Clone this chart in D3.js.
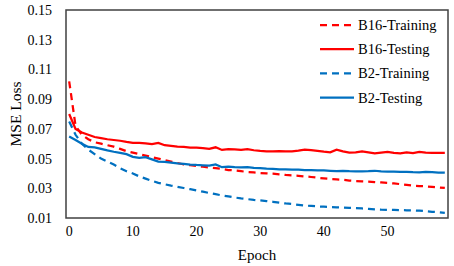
<!DOCTYPE html>
<html>
<head>
<meta charset="utf-8">
<script src="https://d3js.org/d3.v7.min.js"></script>
<style>
  body { margin: 0; background: #fff; }
  svg text { font-family: "Liberation Serif", "Times New Roman", serif; fill: #000; }
</style>
</head>
<body>
<script>
// epochs 0..59
var epochs = d3.range(0, 60);
var xTicks = [0, 10, 20, 30, 40, 50];
var yTicks = [0.01, 0.03, 0.05, 0.07, 0.09, 0.11, 0.13, 0.15];

var b16Training = [0.102, 0.072, 0.066, 0.063, 0.061, 0.060, 0.059, 0.058, 0.0565, 0.055,
  0.054, 0.053, 0.052, 0.051, 0.050, 0.049, 0.048, 0.047, 0.046, 0.0455,
  0.045, 0.0445, 0.044, 0.0435, 0.043, 0.0423, 0.042, 0.0415, 0.041, 0.0407,
  0.0403, 0.040, 0.0398, 0.0394, 0.039, 0.0387, 0.0384, 0.038, 0.0376, 0.0371,
  0.0367, 0.0363, 0.036, 0.0357, 0.0352, 0.0349, 0.0347, 0.0345, 0.0342, 0.0339,
  0.0336, 0.0333, 0.0328, 0.0323, 0.0318, 0.0315, 0.0313, 0.031, 0.0306, 0.0302];

var b16Testing = [0.080, 0.070, 0.0675, 0.066, 0.0645, 0.0638, 0.063, 0.0625, 0.062, 0.0612,
  0.0605, 0.0605, 0.0603, 0.0598, 0.0606, 0.059, 0.0585, 0.058, 0.0578, 0.0574,
  0.0573, 0.057, 0.0566, 0.0576, 0.0558, 0.0563, 0.0562, 0.0558, 0.0563, 0.0556,
  0.0552, 0.0549, 0.0549, 0.055, 0.0549, 0.0549, 0.0553, 0.056, 0.0557, 0.0552,
  0.0546, 0.0542, 0.056, 0.0548, 0.054, 0.0541, 0.0548, 0.0542, 0.0535, 0.054,
  0.0545, 0.0538, 0.0535, 0.0542, 0.0537, 0.0545, 0.054, 0.0538, 0.0538, 0.0538];

var b2Training = [0.075, 0.066, 0.060, 0.056, 0.053, 0.050, 0.048, 0.046, 0.0435, 0.0415,
  0.040, 0.038, 0.0365, 0.035, 0.0337, 0.0327, 0.0318, 0.031, 0.0302, 0.0294,
  0.0286, 0.0277, 0.0268, 0.026, 0.0252, 0.0245, 0.0238, 0.0232, 0.0227, 0.0222,
  0.0218, 0.0214, 0.0209, 0.0203, 0.0198, 0.0194, 0.0189, 0.0184, 0.0181, 0.0178,
  0.0176, 0.0174, 0.0172, 0.017, 0.0168, 0.0166, 0.0164, 0.0161, 0.0158, 0.0156,
  0.0155, 0.0154, 0.0153, 0.0152, 0.0151, 0.0149, 0.0146, 0.0142, 0.0139, 0.0135];

var b2Testing = [0.0648, 0.0625, 0.060, 0.0578, 0.0575, 0.0565, 0.0555, 0.0546, 0.0538, 0.053,
  0.0512, 0.0505, 0.051, 0.0495, 0.048, 0.0478, 0.0473, 0.0468, 0.0465, 0.046,
  0.0457, 0.0455, 0.0452, 0.046, 0.0442, 0.0445, 0.0442, 0.044, 0.0442, 0.0437,
  0.0435, 0.0432, 0.043, 0.0427, 0.0428, 0.0425, 0.0425, 0.0423, 0.0423, 0.0421,
  0.042, 0.0418, 0.0416, 0.0418, 0.0415, 0.0413, 0.0413, 0.0415, 0.0418, 0.0414,
  0.0412, 0.0412, 0.041, 0.041, 0.0408, 0.0407, 0.041, 0.0408, 0.0406, 0.0405];

var seriesNames = ["B16-Training", "B16-Testing", "B2-Training", "B2-Testing"];
var seriesValues = [b16Training, b16Testing, b2Training, b2Testing];
var seriesColors = ["#ff0000", "#ff0000", "#0070c0", "#0070c0"];
var seriesDashed = [true, false, true, false];

var width = 454, height = 266;
var plotLeft = 66, plotRight = 448, plotTop = 10, plotBottom = 218;

var svg = d3.select("body").append("svg")
  .attr("width", width)
  .attr("height", height);

var x = d3.scaleLinear().domain([-0.5, 59.5]).range([plotLeft, plotRight]);
var y = d3.scaleLinear().domain([0.01, 0.15]).range([plotBottom, plotTop]);

// y tick labels
svg.append("g")
  .selectAll("text")
  .data(yTicks)
  .enter()
  .append("text")
    .attr("x", plotLeft - 14)
    .attr("y", function(d) { return y(d) + 5; })
    .attr("text-anchor", "end")
    .style("font-size", "14px")
    .text(function(d) { return d3.format(".2f")(d); });

// x tick labels
svg.append("g")
  .selectAll("text")
  .data(xTicks)
  .enter()
  .append("text")
    .attr("x", function(d) { return x(d); })
    .attr("y", plotBottom + 18)
    .attr("text-anchor", "middle")
    .style("font-size", "14px")
    .text(function(d) { return d; });

// axis titles
svg.append("text")
  .attr("x", (plotLeft + plotRight) / 2)
  .attr("y", 260)
  .attr("text-anchor", "middle")
  .style("font-size", "15px")
  .text("Epoch");

svg.append("text")
  .attr("transform", "translate(21," + (plotTop + plotBottom) / 2 + ") rotate(-90)")
  .attr("text-anchor", "middle")
  .style("font-size", "15.5px")
  .text("MSE Loss");

// lines
var line = d3.line()
  .x(function(d, i) { return x(epochs[i]); })
  .y(function(d) { return y(d); });

svg.append("g")
  .selectAll("path")
  .data(seriesValues)
  .enter()
  .append("path")
    .attr("d", line)
    .attr("fill", "none")
    .attr("stroke", function(d, i) { return seriesColors[i]; })
    .attr("stroke-width", 2.25)
    .attr("stroke-dasharray", function(d, i) { return seriesDashed[i] ? "7,5" : null; });

// plot frame
svg.append("rect")
  .attr("x", plotLeft)
  .attr("y", plotTop)
  .attr("width", plotRight - plotLeft)
  .attr("height", plotBottom - plotTop)
  .attr("fill", "none")
  .attr("stroke", "#404040")
  .attr("stroke-width", 1.5);

// legend
var legend = svg.append("g")
  .selectAll("g")
  .data(seriesNames)
  .enter()
  .append("g")
    .attr("transform", function(d, i) {
      return "translate(320," + (25 + i * 24.2) + ")";
    });

legend.append("line")
  .attr("x1", 0)
  .attr("x2", 34)
  .attr("y1", 0)
  .attr("y2", 0)
  .attr("stroke", function(d, i) { return seriesColors[i]; })
  .attr("stroke-width", 2.25)
  .attr("stroke-dasharray", function(d, i) { return seriesDashed[i] ? "7,5" : null; });

legend.append("text")
  .attr("x", 38)
  .attr("y", 5)
  .style("font-size", "14.5px")
  .text(function(d) { return d; });
</script>
</body>
</html>
